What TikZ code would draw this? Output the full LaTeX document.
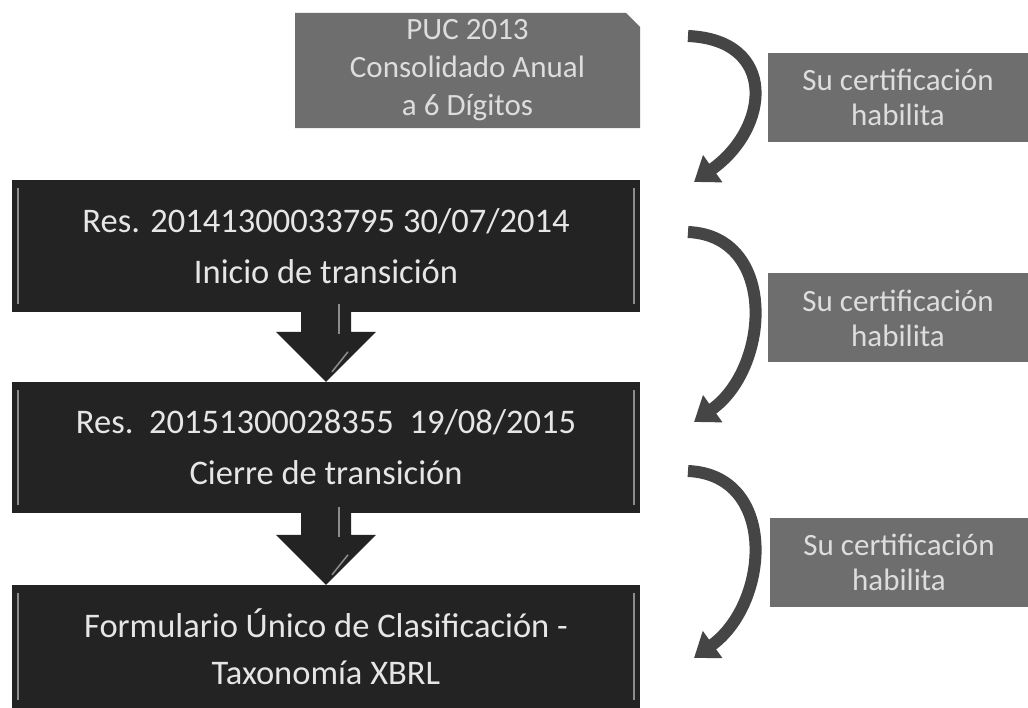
\documentclass[tikz,border=0pt]{standalone}
\usepackage{fontspec}
\setmainfont{Carlito}
\usetikzlibrary{arrows.meta,shapes.misc,calc}
\definecolor{darkbox}{HTML}{232323}
\definecolor{boxtext}{HTML}{E6E6E6}
\definecolor{grayfill}{HTML}{6E6E6E}
\definecolor{graytext}{HTML}{DDDDDD}
\definecolor{curvecol}{HTML}{454545}
\definecolor{hilite}{HTML}{8C8C8C}
\begin{document}
\begin{tikzpicture}[x=1pt,y=-1pt,
  blackbox/.style={fill=darkbox, text=boxtext, minimum width=628pt, inner sep=0pt,
    align=center, font=\fontsize{34.5}{51}\selectfont},
  grayright/.style={fill=grayfill, text=graytext, minimum width=260pt, minimum height=89pt,
    inner sep=0pt, align=center, font=\fontsize{31}{35}\selectfont},
  pucbox/.style={chamfered rectangle, chamfered rectangle corners=north east,
    chamfered rectangle xsep=7pt, chamfered rectangle ysep=7pt,
    fill=grayfill, text=graytext, minimum width=345pt, minimum height=115pt,
    inner sep=0pt, align=center, font=\fontsize{31}{38}\selectfont},
  blockarrow/.style={fill=darkbox},
  curvearrow/.style={draw=curvecol, line width=12pt,
    -{Triangle[width=32pt,length=23pt]}},
  edgehl/.style={draw=hilite, line width=2pt}
]
\useasboundingbox (0,0) rectangle (1028,708);
\fill[white] (0,0) rectangle (1028,708);

% left column
\node[pucbox] (puc) at (467.5,70.5) {PUC 2013\\Consolidado Anual\\a 6 Dígitos};
\node[blackbox, minimum height=132pt] (r1) at (326,246)
  {Res. 20141300033795 30/07/2014\\Inicio de transición};
\node[blackbox, minimum height=131pt] (r2) at (326,447.5)
  {Res.\ \ 20151300028355\ \ 19/08/2015\\Cierre de transición};
\node[blackbox, minimum height=123pt, font=\fontsize{34.5}{47}\selectfont] (r3) at (326,646.5)
  {Formulario Único de Clasificación -\\Taxonomía XBRL};

% bevel highlights on black boxes
\foreach \b in {r1,r2,r3}{
  \draw[edgehl] ($(\b.north west)+(6,8)$) -- ($(\b.south west)+(6,-8)$);
  \draw[edgehl] ($(\b.north east)+(-6,8)$) -- ($(\b.south east)+(-6,-8)$);
}

% block arrows between black boxes
\begin{scope}[shift={(r2.north)}]
  \fill[blockarrow] (-25,-82) -- (25,-82) -- (25,-50) -- (50,-50) -- (0,0)
    -- (-50,-50) -- (-25,-50) -- cycle;
  \draw[hilite, line width=1.5pt] (13,-78) -- (13,-48);
  \draw[hilite, line width=1.5pt] (22,-30) -- (6,-10);
\end{scope}
\begin{scope}[shift={(r3.north)}]
  \fill[blockarrow] (-25,-82) -- (25,-82) -- (25,-50) -- (50,-50) -- (0,0)
    -- (-50,-50) -- (-25,-50) -- cycle;
  \draw[hilite, line width=1.5pt] (13,-78) -- (13,-48);
  \draw[hilite, line width=1.5pt] (22,-30) -- (6,-10);
\end{scope}

% right column
\node[grayright] (c1) at (898,97.5) {Su certificación\\habilita};
\node[grayright] (c2) at (898,318) {Su certificación\\habilita};
\node[grayright, minimum width=258pt] (c3) at (899,562.5) {Su certificación\\habilita};

% curved arrows
\coordinate (a1s) at (688,36);  \coordinate (a1e) at (694,182);
\coordinate (a2s) at (688,232); \coordinate (a2e) at (694,422);
\coordinate (a3s) at (688,471); \coordinate (a3e) at (694,658);
\draw[curvearrow] (a1s) .. controls (778,40) and (770,128) .. (a1e);
\draw[curvearrow] (a2s) .. controls (778,236) and (770,368) .. (a2e);
\draw[curvearrow] (a3s) .. controls (778,475) and (770,603) .. (a3e);
\end{tikzpicture}
\end{document}
